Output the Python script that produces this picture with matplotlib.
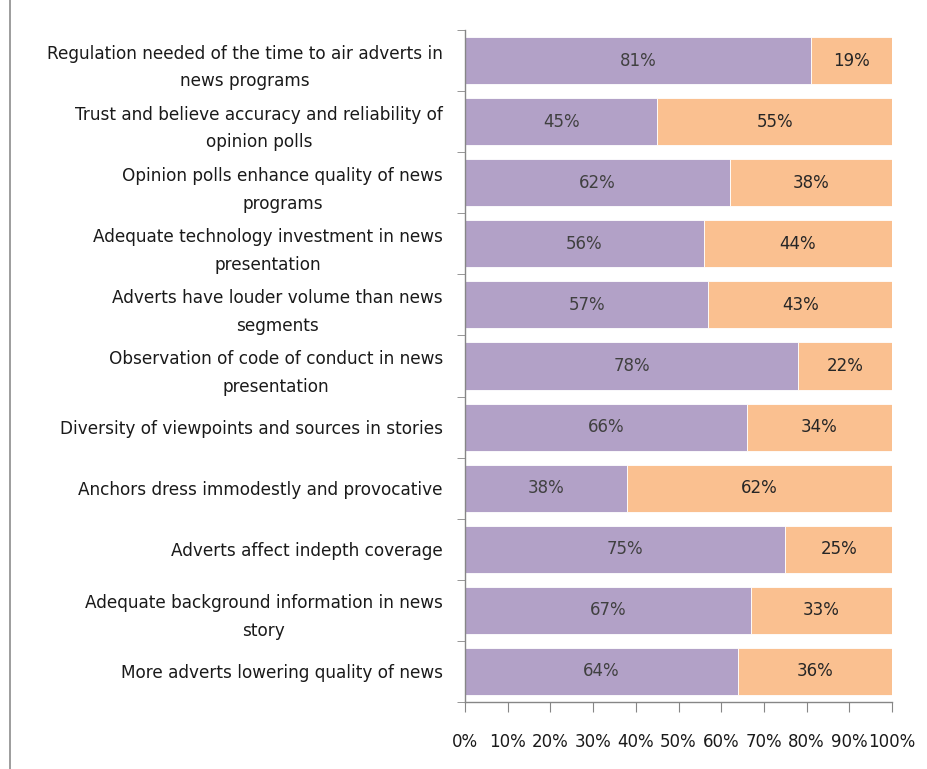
import matplotlib
matplotlib.use("Agg")
import matplotlib.pyplot as plt
from matplotlib.lines import Line2D
import numpy as np

categories = [
    "Regulation needed of the time to air adverts in\nnews programs",
    "Trust and believe accuracy and reliability of\nopinion polls",
    "Opinion polls enhance quality of news\nprograms",
    "Adequate technology investment in news\npresentation",
    "Adverts have louder volume than news\nsegments",
    "Observation of code of conduct in news\npresentation",
    "Diversity of viewpoints and sources in stories",
    "Anchors dress immodestly and provocative",
    "Adverts affect indepth coverage",
    "Adequate background information in news\nstory",
    "More adverts lowering quality of news",
]
agree = [81, 45, 62, 56, 57, 78, 66, 38, 75, 67, 64]
disagree = [19, 55, 38, 44, 43, 22, 34, 62, 25, 33, 36]
xticks = [0, 10, 20, 30, 40, 50, 60, 70, 80, 90, 100]

plt.rcParams['font.family'] = ['DejaVu Sans']

fig = plt.figure(figsize=(9.27, 7.69), dpi=100)
ax = fig.add_axes([465/927, 1-702/769, (892-465)/927, (702-30)/769])

y = np.arange(len(categories))
purple = "#B2A1C7"
orange = "#FAC090"
ax.barh(y, agree, height=0.77, color=purple, edgecolor="white", linewidth=0.6)
ax.barh(y, disagree, left=agree, height=0.77, color=orange, edgecolor="white", linewidth=0.6)

for i, (a, d) in enumerate(zip(agree, disagree)):
    ax.text(a/2, i, f"{a}%", ha="center", va="center", fontsize=12, color="#404040")
    ax.text(a + d/2, i, f"{d}%", ha="center", va="center", fontsize=12, color="#262626")

ax.set_ylim(len(categories)-0.5, -0.5)
ax.set_xlim(0, 100)
ax.set_yticks(y)
ax.set_yticklabels(categories, fontsize=12.2, color="#1a1a1a", multialignment="center", linespacing=1.7)
ax.tick_params(axis="y", which="major", length=0, pad=16)
ax.set_yticks(np.arange(-0.5, len(categories)), minor=True)
ax.tick_params(axis="y", which="minor", length=6, direction="out", color="#868686")
ax.set_xticks(xticks)
ax.set_xticklabels([f"{t}%" for t in xticks], fontsize=12, color="#1a1a1a")
ax.tick_params(axis="x", length=7, direction="out", color="#868686", pad=15)

for s in ["top", "right"]:
    ax.spines[s].set_visible(False)
for s in ["left", "bottom"]:
    ax.spines[s].set_color("#868686")
    ax.spines[s].set_linewidth(1.0)

fig.add_artist(Line2D([10/927, 10/927], [0, 1], color="#8c8c8c", linewidth=1.2, transform=fig.transFigure))

fig.savefig("out.png", dpi=100)
